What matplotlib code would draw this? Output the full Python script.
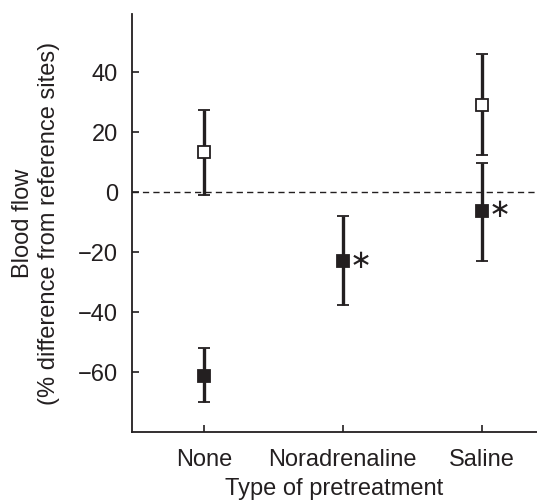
import matplotlib
matplotlib.use('Agg')
from matplotlib import pyplot as plt

plt.rcParams['font.family'] = ['Liberation Sans', 'DejaVu Sans']

categories = ['None', 'Noradrenaline', 'Saline']

# open squares (None, Saline)
open_x = [1, 3]
open_mean = [13.4, 29.0]
open_upper = [27.4, 46.0]
open_lower = [-1.0, 12.3]

# filled squares (None, Noradrenaline, Saline)
filled_x = [1, 2, 3]
filled_mean = [-61.2, -23.0, -6.3]
filled_upper = [-52.1, -7.9, 9.9]
filled_lower = [-69.9, -37.7, -23.0]
filled_sig = [False, True, True]

yticks = [-60, -40, -20, 0, 20, 40]
ink = '#231f20'

fig = plt.figure(figsize=(5.37, 5.0), dpi=100)
ax = fig.add_axes([0.246, 0.136, 0.754, 0.836])

ax.axhline(0, color=ink, lw=1.0, ls=(0, (4.5, 3)), zorder=1)

def draw(xs, mean, up, lo, face):
    err = [[m - l for m, l in zip(mean, lo)], [u - m for m, u in zip(mean, up)]]
    ax.errorbar(xs, mean, yerr=err, fmt='s', ms=8.7, mfc=face, mec=ink, mew=1.3,
                ecolor=ink, elinewidth=2.4, capsize=4.3, capthick=2.4, color=ink, zorder=3)

draw(open_x, open_mean, open_upper, open_lower, 'white')
draw(filled_x, filled_mean, filled_upper, filled_lower, ink)

for x, m, s in zip(filled_x, filled_mean, filled_sig):
    if s:
        ax.annotate('\u2217', (x, m), xytext=(13, 0.5), textcoords='offset points',
                    ha='center', va='center', fontsize=19, color=ink,
                    family='DejaVu Sans')

ax.set_xlim(0.48, 3.4)
ax.set_ylim(-80, 59.5)
ax.set_xticks(filled_x)
ax.set_xticklabels(categories)
ax.set_yticks(yticks)
ax.set_yticklabels([str(t).replace('-', '\u2212') for t in yticks])
ax.tick_params(direction='in', length=5, width=1.2, colors=ink, labelsize=17)
ax.tick_params(axis='x', pad=12)
ax.tick_params(axis='y', pad=10)

for side in ['top', 'right']:
    ax.spines[side].set_visible(False)
for side in ['left', 'bottom']:
    ax.spines[side].set_linewidth(1.3)
    ax.spines[side].set_color(ink)

ax.set_ylabel('Blood flow\n(% difference from reference sites)', fontsize=17,
              color=ink, labelpad=13, linespacing=1.25)
ax.set_xlabel('Type of pretreatment', fontsize=17, color=ink, labelpad=5.5)

fig.savefig('out.png', dpi=100)
